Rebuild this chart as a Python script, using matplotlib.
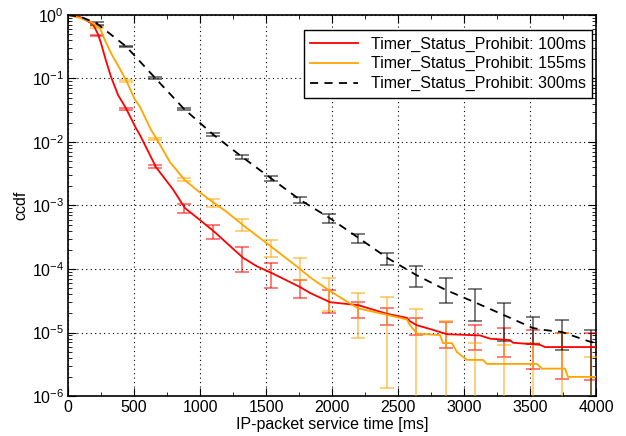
import numpy as np
import matplotlib
matplotlib.use("Agg")
import matplotlib.pyplot as plt
from matplotlib.ticker import MultipleLocator, LogLocator, NullFormatter

plt.rcParams['font.family'] = ['Liberation Sans', 'DejaVu Sans']
plt.rcParams['mathtext.default'] = 'regular'

# ccdf curves (time in ms, ccdf value)
red_t = [0, 91, 189, 227, 250, 288, 326, 379, 439, 515, 545, 667, 795, 886, 1000,
         1106, 1326, 1432, 1545, 1758, 1833, 1985, 2197, 2417, 2568, 2591, 2644,
         2765, 2871, 3121, 3197, 3348, 3371, 3576, 3614, 4000]
red_v = [1.0, 0.93, 0.72, 0.5, 0.36, 0.19, 0.106, 0.055, 0.034, 0.0165, 0.0129,
         0.0040, 0.0018, 9.1e-4, 5.9e-4, 3.9e-4, 1.5e-4, 1.1e-4, 8.6e-5, 5.2e-5,
         4.2e-5, 3.0e-5, 2.7e-5, 1.97e-5, 1.7e-5, 1.5e-5, 1.3e-5, 1.1e-5, 9.4e-6,
         9.0e-6, 8.0e-6, 7.6e-6, 6.9e-6, 6.4e-6, 5.9e-6, 5.9e-6]

orange_t = [0, 90, 174, 242, 280, 326, 379, 439, 508, 545, 629, 667, 773, 886, 1000,
            1106, 1200, 1326, 1545, 1758, 1833, 1985, 2197, 2417, 2515, 2568, 2591,
            2644, 2818, 2841, 2909, 2947, 3023, 3144, 3174, 3553, 3591, 3765, 3788, 4000]
orange_v = [1.0, 0.9, 0.78, 0.62, 0.40, 0.25, 0.16, 0.095, 0.046, 0.036, 0.0155,
            0.0116, 0.0048, 0.0025, 0.0016, 0.0011, 8e-4, 4.9e-4, 2.2e-4, 1.0e-4,
            7.4e-5, 4.5e-5, 2.4e-5, 1.9e-5, 1.7e-5, 1.6e-5, 1.3e-5, 9.6e-6, 9.1e-6,
            6.8e-6, 6.8e-6, 4.9e-6, 3.7e-6, 3.7e-6, 3.2e-6, 3.2e-6, 2.7e-6, 2.7e-6,
            2.0e-6, 2.0e-6]

black_t = [0, 100, 220, 440, 660, 880, 1100, 1320, 1540, 1760, 1980, 2200, 2420,
           2640, 2860, 3080, 3300, 3520, 3600, 3740, 3960, 4000]
black_v = [1.0, 0.93, 0.73, 0.32, 0.102, 0.033, 0.0131, 0.0058, 0.00266, 0.00122,
           6.4e-4, 3.1e-4, 1.49e-4, 8.0e-5, 4.7e-5, 3.0e-5, 1.89e-5, 1.18e-5,
           1.1e-5, 1.02e-5, 7.1e-6, 6.9e-6]

# confidence intervals (upper / lower) at every 220 ms
ci_t = [220, 440, 660, 880, 1100, 1320, 1540, 1760, 1980, 2200, 2420, 2640,
        2860, 3080, 3300, 3520, 3740, 3960]
red_hi = [0.484, 0.0343, 0.00434, 1.06e-3, 4.9e-4, 2.22e-4, 1.24e-4, 6.7e-5, 4.7e-5,
          3.0e-5, 2.43e-5, 1.69e-5, 1.46e-5, 1.31e-5, 1.18e-5, 1.09e-5, 9.8e-6, 9.8e-6]
red_lo = [0.467, 0.0319, 0.0039, 7.6e-4, 2.97e-4, 9.0e-5, 5.0e-5, 3.5e-5, 2.03e-5,
          1.69e-5, 1.31e-5, 9.1e-6, 5.7e-6, 5.3e-6, 4.1e-6, 2.66e-6, 1.85e-6, 1.79e-6]
orange_hi = [0.67, 0.095, 0.0116, 0.0027, 1.27e-3, 6.1e-4, 2.86e-4, 1.49e-4, 7.2e-5,
             4.2e-5, 3.6e-5, 2.34e-5, 1.52e-5, 6.8e-6, 6.4e-6, 6.8e-6, 9.8e-6, 4.1e-6]
orange_lo = [0.63, 0.088, 0.0107, 0.00243, 9.5e-4, 3.96e-4, 1.55e-4, 6.7e-5, 2.18e-5,
             8.2e-6, 1.34e-6, 5e-7, 5e-7, 5e-7, 5e-7, 5e-7, 5e-7, 5e-7]
black_hi = [0.776, 0.325, 0.106, 0.0343, 0.0139, 0.00624, 0.00292, 0.00136, 7.3e-4,
            3.56e-4, 1.79e-4, 1.11e-4, 7.2e-5, 4.8e-5, 2.9e-5, 1.75e-5, 1.57e-5, 1.09e-5]
black_lo = [0.696, 0.313, 0.098, 0.0319, 0.0124, 0.0054, 0.00243, 0.00109, 5.3e-4,
            2.57e-4, 1.16e-4, 5.2e-5, 2.9e-5, 1.52e-5, 7.3e-6, 6.6e-6, 5.3e-6, 8e-7]

labels = ['Timer_Status_Prohibit: 100ms', 'Timer_Status_Prohibit: 155ms',
          'Timer_Status_Prohibit: 300ms']

fig = plt.figure(figsize=(6.26, 4.36), dpi=100)
ax = fig.add_axes([68 / 626, 1 - 396 / 436, 528 / 626, 381 / 436])

series = [
    (red_t, red_v, red_hi, red_lo, '#ff0000', '-'),
    (orange_t, orange_v, orange_hi, orange_lo, '#ffa500', '-'),
    (black_t, black_v, black_hi, black_lo, 'black', '--'),
]

for (t, v, hi, lo, col, ls), lab in zip(series, labels):
    hi = np.array(hi)
    lo = np.array(lo)
    mid = np.sqrt(hi * lo)
    ax.errorbar(ci_t, mid, yerr=[mid - lo, hi - mid], fmt='none', ecolor=col,
                elinewidth=1.2, capsize=5, capthick=1.2, alpha=0.6, zorder=3)
    if ls == '--':
        ax.plot(t, v, color=col, lw=1.3, dashes=(4.5, 3.5), label=lab, zorder=4)
    else:
        ax.plot(t, v, color=col, lw=1.3, label=lab, zorder=4)

ax.set_yscale('log')
ax.set_xlim(0, 4000)
ax.set_ylim(1e-6, 1)
ax.xaxis.set_major_locator(MultipleLocator(500))
ax.xaxis.set_minor_locator(MultipleLocator(250))
ax.yaxis.set_major_locator(LogLocator(base=10, numticks=10))
ax.yaxis.set_minor_locator(LogLocator(base=10, subs=np.arange(2, 10), numticks=20))
ax.yaxis.set_minor_formatter(NullFormatter())

ax.tick_params(which='both', direction='in', top=True, right=True, labelsize=11.5,
               pad=3)
ax.tick_params(which='major', length=6)
ax.tick_params(which='minor', length=3)
ax.grid(True, which='major', color='black', linestyle=(0, (1, 3)), lw=0.8)

for s in ax.spines.values():
    s.set_linewidth(1.2)

ax.set_xlabel('IP-packet service time [ms]', fontsize=11.5, va='baseline')
ax.xaxis.set_label_coords(0.5, -0.087)
ax.set_ylabel('ccdf', fontsize=11.5, labelpad=2)

leg = ax.legend(loc='upper right', bbox_to_anchor=(0.9924, 0.9606), fontsize=11.5,
                fancybox=False, framealpha=1, edgecolor='black', handlelength=3,
                borderaxespad=0, labelspacing=0.3, borderpad=0.4)
leg.get_frame().set_linewidth(1.0)

fig.savefig('out.png', dpi=100)
